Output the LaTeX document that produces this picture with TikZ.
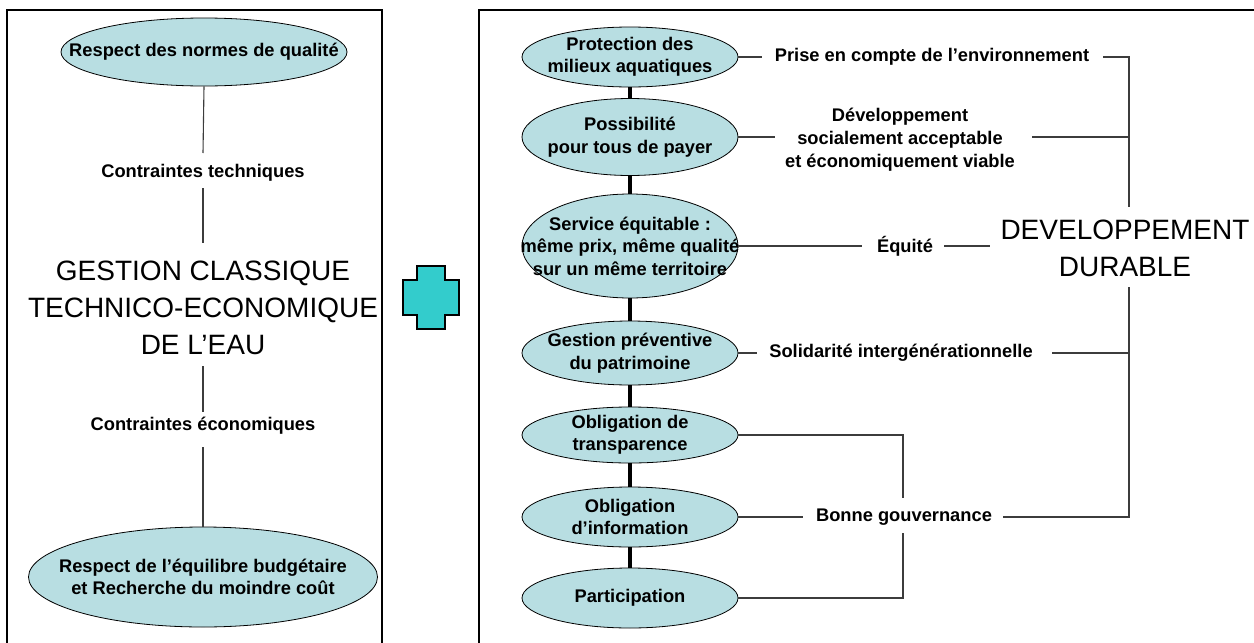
\documentclass[tikz,border=0pt]{standalone}
\usepackage{fontspec}
\setmainfont{Liberation Sans}
\usetikzlibrary{shapes.geometric}
\definecolor{ellfill}{RGB}{184,222,226}
\definecolor{crossfill}{RGB}{51,204,204}
\definecolor{linegray}{RGB}{60,60,60}
\begin{document}
\begin{tikzpicture}[x=1pt,y=-1pt,
  ell/.style={ellipse,draw=black,line width=0.8pt,fill=ellfill,inner sep=0pt},
  etxt/.style={align=center,inner sep=0pt,font=\fontsize{18.3}{22.5}\selectfont\bfseries},
  lbl/.style={align=center,inner sep=0pt,font=\fontsize{18.3}{23}\selectfont\bfseries},
  big/.style={align=center,inner sep=0pt,font=\fontsize{28}{37}\selectfont},
  thinline/.style={line width=1.1pt,draw=linegray},
  thickline/.style={line width=3.5pt,draw=black},
  frame/.style={line width=2pt,draw=black}]
\useasboundingbox (0,0) rectangle (1254,643);
% frames
\draw[frame] (7,660) -- (7,10) -- (382,10) -- (382,660);
\draw[frame] (479,660) -- (479,10) -- (1270,10);
% plus sign
\draw[line width=1.5pt,fill=crossfill] (417,266) -- (445,266) -- (445,280) -- (459,280) -- (459,315) -- (445,315) -- (445,329) -- (417,329) -- (417,315) -- (403,315) -- (403,280) -- (417,280) -- cycle;

% ---------- left panel ----------
\node[ell,minimum width=286pt,minimum height=68pt] (ltop) at (204,52) {};
\node[etxt] (ltopt) at (ltop.center) {Respect des normes de qualité};
\node[lbl] (ctech) at (203,173) {Contraintes techniques};
\node[big] (gest) at (203,308) {GESTION CLASSIQUE\\TECHNICO-ECONOMIQUE\\DE L’EAU};
\node[lbl] (ceco) at (203,426) {Contraintes économiques};
\node[ell,minimum width=349pt,minimum height=100pt] (lbot) at (203,577) {};
\node[etxt] (lbott) at (lbot.center) {Respect de l’équilibre budgétaire\\et Recherche du moindre coût};
\coordinate (la1) at (203,153);
\coordinate (la2) at (203,188);
\coordinate (la3) at (203,243);
\coordinate (la4) at (203,366);
\coordinate (la5) at (203,412);
\coordinate (la6) at (203,447);
\draw[thinline] (ltop.south) -- (la1);
\draw[thinline] (la2) -- (la3);
\draw[thinline] (la4) -- (la5);
\draw[thinline] (la6) -- (lbot.north);

% ---------- right panel ----------
\node[ell,minimum width=216pt,minimum height=60pt] (r1) at (630,57) {};
\node[ell,minimum width=216pt,minimum height=77pt] (r2) at (630,137) {};
\node[ell,minimum width=216pt,minimum height=104pt] (r3) at (630,246) {};
\node[ell,minimum width=216pt,minimum height=64pt] (r4) at (630,353) {};
\node[ell,minimum width=216pt,minimum height=56pt] (r5) at (630,435) {};
\node[ell,minimum width=216pt,minimum height=60pt] (r6) at (630,517) {};
\node[ell,minimum width=216pt,minimum height=60pt] (r7) at (630,598) {};
\node[etxt] (r1t) at (r1.center) {Protection des\\milieux aquatiques};
\node[etxt] (r2t) at (r2.center) {Possibilité\\pour tous de payer};
\node[etxt] (r3t) at (r3.center) {Service équitable :\\même prix, même qualité\\sur un même territoire};
\node[etxt] (r4t) at (r4.center) {Gestion préventive\\du patrimoine};
\node[etxt] (r5t) at (r5.center) {Obligation de\\transparence};
\node[etxt] (r6t) at (r6.center) {Obligation\\d’information};
\node[etxt] (r7t) at (r7.center) {Participation};
\draw[thickline] (r1.south) -- (r2.north);
\draw[thickline] (r2.south) -- (r3.north);
\draw[thickline] (r3.south) -- (r4.north);
\draw[thickline] (r4.south) -- (r5.north);
\draw[thickline] (r5.south) -- (r6.north);
\draw[thickline] (r6.south) -- (r7.north);

% labels
\node[lbl] (prise) at (932,57) {Prise en compte de l’environnement};
\node[lbl] (dev) at (900,140) {Développement\\socialement acceptable\\et économiquement viable};
\node[lbl] (equ) at (905,246) {Équité};
\node[lbl] (sol) at (901,353) {Solidarité intergénérationnelle};
\node[lbl] (bon) at (904,517) {Bonne gouvernance};
\node[big] (dd) at (1125,248) {DEVELOPPEMENT\\DURABLE};

% line end points
\coordinate (p1) at (762,57);
\coordinate (p2) at (1103,57);
\coordinate (v1) at (1129,57);
\coordinate (v2) at (1129,207);
\coordinate (d1) at (775,137);
\coordinate (d2) at (1032,137);
\coordinate (v3) at (1129,137);
\coordinate (e1) at (862,246);
\coordinate (e2) at (944,246);
\coordinate (e3) at (990,246);
\coordinate (s1) at (757,353);
\coordinate (s2) at (1052,353);
\coordinate (v4) at (1129,353);
\coordinate (v5) at (1129,287);
\coordinate (v6) at (1129,517);
\coordinate (b1) at (803,517);
\coordinate (b2) at (1003,517);
\coordinate (k1) at (903,435);
\coordinate (k2) at (903,498);
\coordinate (k3) at (903,533);
\coordinate (k4) at (903,598);

\draw[thinline] (r1.east) -- (p1);
\draw[thinline] (p2) -- (v1) -- (v2);
\draw[thinline] (r2.east) -- (d1);
\draw[thinline] (d2) -- (v3);
\draw[thinline] (r3.east) -- (e1);
\draw[thinline] (e2) -- (e3);
\draw[thinline] (r4.east) -- (s1);
\draw[thinline] (s2) -- (v4);
\draw[thinline] (v5) -- (v6) -- (b2);
\draw[thinline] (r6.east) -- (b1);
\draw[thinline] (r5.east) -- (k1) -- (k2);
\draw[thinline] (k3) -- (k4) -- (r7.east);
\end{tikzpicture}
\end{document}
